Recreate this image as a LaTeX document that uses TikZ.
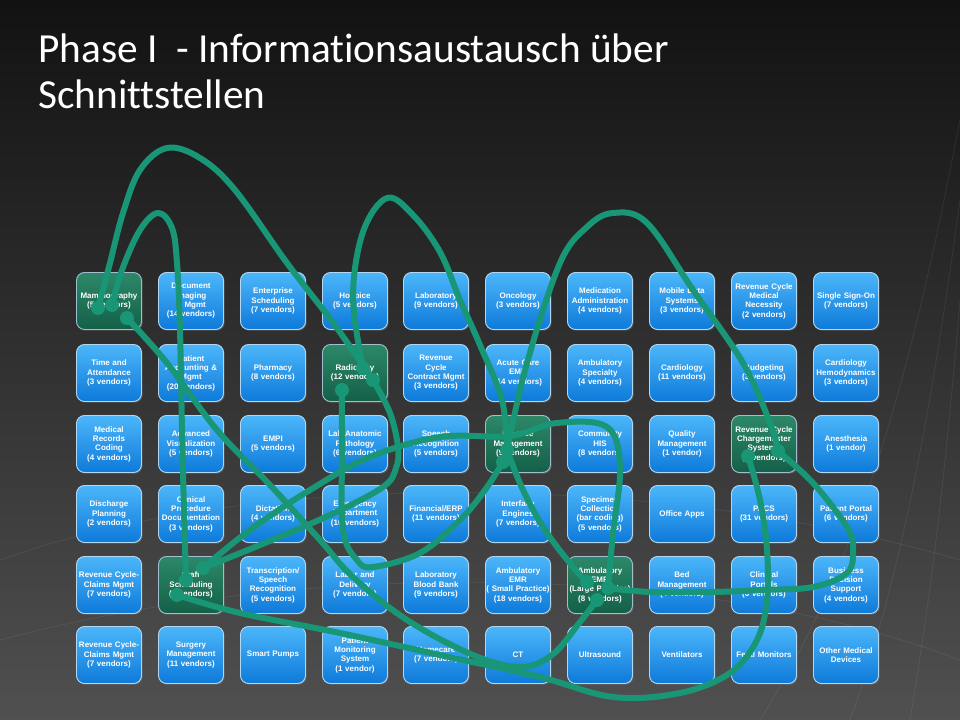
\documentclass[tikz,border=0pt]{standalone}
\usepackage{fontspec}
\usepackage{tikz}
\usetikzlibrary{shadows}
\newfontfamily\titlefont{Carlito}[Ligatures=CommonOff]
\newfontfamily\tilefont{Liberation Sans}
\definecolor{linkgreen}{RGB}{24,150,118}
\definecolor{tiletop}{RGB}{76,182,250}
\definecolor{tilemid}{RGB}{30,148,238}
\definecolor{tilebot}{RGB}{14,122,218}
\definecolor{greentop}{RGB}{44,136,104}
\definecolor{greenbot}{RGB}{20,96,72}
\definecolor{tileedge}{RGB}{176,216,242}

\begin{document}
\begin{tikzpicture}[x=0.75pt,y=-0.75pt,
    tile/.style={rectangle,rounded corners=6pt,draw=tileedge,line width=0.7pt,
      top color=tiletop,middle color=tilemid,bottom color=tilebot,
      minimum width=48.75pt,minimum height=42.75pt,text width=48pt,inner xsep=0.2pt,inner ysep=0.5pt,
      align=center,text=white,font=\tilefont\bfseries\fontsize{6}{7}\selectfont,
      drop shadow={opacity=0.45,shadow xshift=0.9pt,shadow yshift=-0.9pt}},
    hot/.style={tile,top color=greentop,middle color=greentop!70!greenbot,bottom color=greenbot,draw=tileedge!70!gray},
    link/.style={draw=linkgreen,line width=4.5pt,line cap=round,line join=round},
    dot/.style={circle,fill=linkgreen,inner sep=0pt,minimum size=10.5pt},
    mesh/.style={draw=white,opacity=0.07,line width=0.6pt}]
  % backdrop
  \shade[top color={rgb,255:red,18;green,18;blue,18},middle color={rgb,255:red,36;green,36;blue,36},
    bottom color={rgb,255:red,80;green,80;blue,80}] (0,0) rectangle (960,720);
  \useasboundingbox (0,0) rectangle (960,720);
  \draw[mesh] (960,120) .. controls (910,380) and (860,560) .. (760,720);
  \draw[mesh] (960,200) .. controls (930,420) and (900,580) .. (850,720);
  \draw[mesh] (960,300) .. controls (945,480) and (930,600) .. (910,720);
  \draw[mesh] (0,560) .. controls (250,470) and (650,470) .. (960,560);
  \draw[mesh] (0,640) .. controls (300,560) and (700,560) .. (960,660);
  \node[anchor=base west,text=white,font=\titlefont\fontsize{31}{36}\selectfont,inner sep=0pt]
    (title) at (38,63) {Phase I~ - Informationsaustausch über};
  \node[anchor=base west,text=white,font=\titlefont\fontsize{31}{36}\selectfont,inner sep=0pt]
    (title2) at (38,109) {Schnittstellen};
  % row 1
  \node[hot] (mammo) at (109,301) {Mammography\\(5 vendors)};
  \node[tile] (docimg) at (191,301) {Document\\Imaging\\\& Mgmt\\(14 vendors)};
  \node[tile] (entsched) at (273,301) {Enterprise\\Scheduling\\(7 vendors)};
  \node[tile] (hospice) at (355,301) {Hospice\\(5 vendors)};
  \node[tile] (lab) at (436,301) {Laboratory\\(9 vendors)};
  \node[tile] (onco) at (518,301) {Oncology\\(3 vendors)};
  \node[tile] (medadm) at (600,301) {Medication\\Administration\\(4 vendors)};
  \node[tile] (mobile) at (682,301) {Mobile Data\\Systems\\(3 vendors)};
  \node[tile] (rcmed) at (764,301) {Revenue Cycle\\Medical\\Necessity\\(2 vendors)};
  \node[tile] (sso) at (846,301) {Single Sign-On\\(7 vendors)};
  % row 2
  \node[tile] (time) at (109,373) {Time and\\Attendance\\(3 vendors)};
  \node[tile] (patacc) at (191,373) {Patient\\Accounting \&\\Mgmt\\(20 vendors)};
  \node[tile] (pharm) at (273,373) {Pharmacy\\(8 vendors)};
  \node[hot] (radio) at (355,373) {Radiology\\(12 vendors)};
  \node[tile] (rccon) at (436,373) {Revenue\\Cycle\\Contract Mgmt\\(3 vendors)};
  \node[tile] (acute) at (518,373) {Acute Care\\EMR\\(14 vendors)};
  \node[tile] (ambspec) at (600,373) {Ambulatory\\Specialty\\(4 vendors)};
  \node[tile] (cardio) at (682,373) {Cardiology\\(11 vendors)};
  \node[tile] (budget) at (764,373) {Budgeting\\(3 vendors)};
  \node[tile] (hemo) at (846,373) {Cardiology\\Hemodynamics\\(3 vendors)};
  % row 3
  \node[tile] (coding) at (109,444) {Medical\\Records\\Coding\\(4 vendors)};
  \node[tile] (advvis) at (191,444) {Advanced\\Visualization\\(5 vendors)};
  \node[tile] (empi) at (273,444) {EMPI\\(5 vendors)};
  \node[tile] (patho) at (355,444) {Lab Anatomic\\Pathology\\(6 vendors)};
  \node[tile] (speech) at (436,444) {Speech\\Recognition\\(5 vendors)};
  \node[hot] (practice) at (518,444) {Practice\\Management\\(9 vendors)};
  \node[tile] (his) at (600,444) {Community\\HIS\\(8 vendors)};
  \node[tile] (quality) at (682,444) {Quality\\Management\\(1 vendor)};
  \node[hot] (charge) at (764,444) {Revenue Cycle\\Chargemaster\\Systems\\(4 vendors)};
  \node[tile] (anest) at (846,444) {Anesthesia\\(1 vendor)};
  % row 4
  \node[tile] (dischg) at (109,514) {Discharge\\Planning\\(2 vendors)};
  \node[tile] (clinproc) at (191,514) {Clinical\\Procedure\\Documentation\\(3 vendors)};
  \node[tile] (dictat) at (273,514) {Dictation\\(4 vendors)};
  \node[tile] (emerg) at (355,514) {Emergency\\Department\\(10 vendors)};
  \node[tile] (erp) at (436,514) {Financial/ERP\\(11 vendors)};
  \node[tile] (iface) at (518,514) {Interface\\Engines\\(7 vendors)};
  \node[tile] (specim) at (600,514) {Specimen\\Collection\\(bar coding)\\(5 vendors)};
  \node[tile] (office) at (682,514) {Office Apps};
  \node[tile] (pacs) at (764,514) {PACS\\(31 vendors)};
  \node[tile] (portal) at (846,514) {Patient Portal\\(6 vendors)};
  % row 5
  \node[tile] (claimsa) at (109,585) {Revenue Cycle-\\Claims Mgmt\\(7 vendors)};
  \node[hot] (staff) at (191,585) {Staff\\Scheduling\\(6 vendors)};
  \node[tile] (transc) at (273,585) {Transcription/\\Speech\\Recognition\\(5 vendors)};
  \node[tile] (labor) at (355,585) {Labor and\\Delivery\\(7 vendors)};
  \node[tile] (blood) at (436,585) {Laboratory\\Blood Bank\\(9 vendors)};
  \node[tile] (emrs) at (518,585) {Ambulatory\\EMR\\( Small Practice)\\(18 vendors)};
  \node[hot] (emrl) at (600,585) {Ambulatory\\EMR\\(Large Practice)\\(8 vendors)};
  \node[tile] (bed) at (682,585) {Bed\\Management\\(4 vendors)};
  \node[tile] (clinport) at (764,585) {Clinical\\Portals\\(6 vendors)};
  \node[tile] (bds) at (846,585) {Business\\Decision\\Support\\(4 vendors)};
  % row 6
  \node[tile] (claimsb) at (109,655) {Revenue Cycle-\\Claims Mgmt\\(7 vendors)};
  \node[tile] (surgery) at (191,655) {Surgery\\Management\\(11 vendors)};
  \node[tile] (pumps) at (273,655) {Smart Pumps};
  \node[tile] (monitor) at (355,655) {Patient\\Monitoring\\System\\(1 vendor)};
  \node[tile] (homecare) at (436,655) {Homecare\\(7 vendors)};
  \node[tile] (ct) at (518,655) {CT};
  \node[tile] (ultra) at (600,655) {Ultrasound};
  \node[tile] (vent) at (682,655) {Ventilators};
  \node[tile] (fetal) at (764,655) {Fetal Monitors};
  \node[tile] (other) at (846,655) {Other Medical\\Devices};
  % interface dots
  \node[dot] (m1) at (98,308) {};
  \node[dot] (m2) at (112,305) {};
  \node[dot] (m3) at (127,318) {};
  \node[dot] (r1) at (363,368) {};
  \node[dot] (r2) at (373,380) {};
  \node[dot] (r3) at (342,390) {};
  \node[dot] (p1) at (507,450) {};
  \node[dot] (p2) at (503,462) {};
  \node[dot] (c1) at (778,451) {};
  \node[dot] (c2) at (748,456) {};
  \node[dot] (s1) at (203,568) {};
  \node[dot] (s2) at (177,595) {};
  \node[dot] (s3) at (186,580) {};
  \node[dot] (a1) at (587,582) {};
  \node[dot] (a2) at (608,588) {};
  \node[dot] (a3) at (597,600) {};
  % links
  \draw[link] plot[smooth,tension=0.6] coordinates {(m1) (110,263) (123,213) (140,170) (167,148) (200,158)
    (235,190) (287,263) (334,324) (r2)};
  \draw[link] plot[smooth,tension=0.6] coordinates {(m2) (122,270) (140,230) (158,213) (172,228) (177,263)
    (180,330) (182,430) (184,510) (s3)};
  \draw[link] plot[smooth,tension=0.6] coordinates {(m3) (167,363) (217,430) (270,485) (320,540) (353,577)
    (407,620) (473,655) (520,667) (552,655) (580,622) (a3)};
  \draw[link] plot[smooth,tension=0.6] coordinates {(r1) (353,297) (363,232) (387,198) (413,215) (440,252)
    (460,300) (480,345) (502,400) (p1)};
  \draw[link] plot[smooth,tension=0.6] coordinates {(p1) (527,363) (560,263) (587,227) (613,213) (647,223)
    (693,290) (743,363) (770,423) (c1)};
  \draw[link] plot[smooth,tension=0.6] coordinates {(r3) (342,450) (343,530) (357,560) (373,567) (420,553)
    (460,520) (485,490) (p2)};
  \draw[link] plot[smooth,tension=0.6] coordinates {(r2) (390,413) (398,447) (396,468) (383,487) (330,515)
    (260,545) (s1)};
  \draw[link] plot[smooth,tension=0.6] coordinates {(s1) (250,530) (310,490) (370,457) (440,437)
    (510,436) (557,423) (607,427) (620,467) (613,533) (a2)};
  \draw[link] plot[smooth,tension=0.6] coordinates {(a2) (650,592) (713,592) (763,590) (813,587) (847,573)
    (853,550) (847,527) (813,483) (c1)};
  \draw[link] plot[smooth,tension=0.6] coordinates {(p1) (523,490) (545,530) (573,567) (a1)};
  \draw[link] plot[smooth,tension=0.6] coordinates {(s2) (240,613) (340,633) (440,655) (540,677) (613,697)
    (680,693) (730,673) (757,640) (767,600) (767,550) (760,500) (c2)};
\end{tikzpicture}
\end{document}
